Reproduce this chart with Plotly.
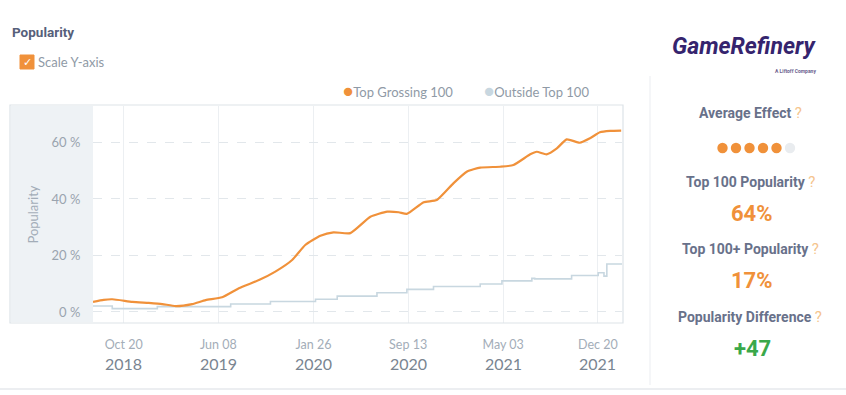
import plotly.graph_objects as go

# ---------------- data ----------------
top_dates = ["2018-08-06", "2018-09-01", "2018-09-22", "2018-11-10", "2018-12-20", "2019-01-22",
             "2019-02-24", "2019-04-05", "2019-05-08", "2019-06-17", "2019-07-28", "2019-09-15",
             "2019-10-25", "2019-12-05", "2020-01-06", "2020-02-12", "2020-03-15", "2020-04-25",
             "2020-06-13", "2020-07-24", "2020-08-21", "2020-09-10", "2020-10-21", "2020-11-22",
             "2021-01-02", "2021-02-04", "2021-03-08", "2021-04-26", "2021-05-28", "2021-07-08",
             "2021-07-24", "2021-08-17", "2021-09-11", "2021-10-05", "2021-11-06", "2021-12-01",
             "2021-12-25", "2022-01-19", "2022-02-15"]
top_values = [3.6, 4.3, 4.5, 3.6, 3.2, 2.8,
              2.1, 2.8, 4.2, 5.2, 8.4, 11.3,
              14.3, 18.4, 23.7, 27.0, 28.2, 27.9,
              33.7, 35.5, 35.3, 34.7, 38.8, 39.6,
              45.6, 49.7, 51.1, 51.4, 52.0, 55.8,
              56.7, 55.8, 57.9, 61.1, 59.9, 61.5,
              63.6, 64.1, 64.2]

out_dates = ["2018-08-06", "2018-09-22", "2019-01-10", "2019-07-08", "2019-10-13", "2020-01-31",
             "2020-03-24", "2020-06-29", "2020-09-10", "2020-11-14", "2021-03-08", "2021-04-30",
             "2021-07-12", "2021-07-19", "2021-10-17", "2021-12-21", "2022-01-04", "2022-01-11",
             "2022-02-17"]
out_values = [2.1, 1.2, 1.9, 2.8, 3.7, 4.5,
              5.6, 6.8, 8.0, 9.0, 9.9, 11.0,
              11.9, 11.7, 12.9, 13.9, 12.7, 17.0,
              17.0]

series_names = ["Top Grossing 100", "Outside Top 100"]
x_tick_dates = ["2018-10-20", "2019-06-08", "2020-01-26", "2020-09-13", "2021-05-03", "2021-12-20"]
x_tick_days = ["Oct 20", "Jun 08", "Jan 26", "Sep 13", "May 03", "Dec 20"]
x_tick_years = ["2018", "2019", "2020", "2020", "2021", "2021"]
y_tick_vals = [0, 20, 40, 60]
y_tick_text = ["0 %", "20 %", "40 %", "60 %"]

effect_score = 5
effect_max = 6
top100_popularity = 64
top100plus_popularity = 17

# ---------------- layout helpers ----------------
W, H = 846, 395
L, R, T, B = 93, 622, 106, 323


def px(x):
    return (x - L) / (R - L)


def py(y):
    return (B - y) / (B - T)


ORANGE = "#f0913a"
BLUE = "#c8d7e0"
GREY_TXT = "#8f9aa6"
DARK_TXT = "#56607a"
QMARK = "#f5c48e"

fig = go.Figure()
fig.add_trace(go.Scatter(x=out_dates, y=out_values, mode="lines", line=dict(color=BLUE, width=1.6, shape="hv"),
                         name=series_names[1], showlegend=False))
fig.add_trace(go.Scatter(x=top_dates, y=top_values, mode="lines",
                         line=dict(color=ORANGE, width=2.2, shape="spline", smoothing=0.5),
                         name=series_names[0], showlegend=False))

P = dict(xref="paper", yref="paper")

shapes = [
    # shaded y-axis band
    dict(type="rect", **P, x0=px(11), x1=0, y0=py(322), y1=py(106),
         fillcolor="#eef2f5", line=dict(width=0), layer="below"),
    # outer frame
    dict(type="rect", **P, x0=px(10), x1=px(623), y0=py(323), y1=py(105),
         fillcolor="rgba(0,0,0,0)", line=dict(color="#dde3e8", width=1.2), layer="above"),
    # right panel divider
    dict(type="line", **P, x0=px(650), x1=px(650), y0=py(385), y1=py(76),
         line=dict(color="#eef0f3", width=1.2)),
    # bottom line
    dict(type="line", **P, x0=px(0), x1=px(846), y0=py(389), y1=py(389),
         line=dict(color="#e6e9ec", width=1.5)),
    # checkbox
    dict(type="rect", **P, x0=px(20), x1=px(34), y0=py(69), y1=py(55),
         fillcolor=ORANGE, line=dict(color=ORANGE, width=1)),
]

# effect dots
for i in range(effect_max):
    cx = 722.5 + i * 13.5
    shapes.append(dict(type="circle", **P,
                       x0=px(cx - 5.2), x1=px(cx + 5.2), y0=py(148 + 5.2), y1=py(148 - 5.2),
                       fillcolor=ORANGE if i < effect_score else "#e9ecef", line=dict(width=0)))

annotations = [
    dict(text="<b>Popularity</b>", **P, x=px(10), y=py(32), xanchor="left", yanchor="middle",
         font=dict(family="Roboto", size=13.5, color=DARK_TXT), showarrow=False),
    dict(text="✓", **P, x=px(27), y=py(62), xanchor="center", yanchor="middle",
         font=dict(family="DejaVu Sans", size=11, color="white"), showarrow=False),
    dict(text="Scale Y-axis", **P, x=px(36), y=py(62), xanchor="left", yanchor="middle",
         font=dict(family="Lato", size=13, color=GREY_TXT), showarrow=False),
    # legend
    dict(text=f"<span style='color:{ORANGE};font-size:17px'>●</span>{series_names[0]}", **P, x=px(341), y=py(90),
         xanchor="left", yanchor="middle", font=dict(family="Lato", size=13, color=GREY_TXT), showarrow=False),
    dict(text=f"<span style='color:{BLUE};font-size:17px'>●</span>{series_names[1]}", **P, x=px(482), y=py(90),
         xanchor="left", yanchor="middle", font=dict(family="Lato", size=13, color=GREY_TXT), showarrow=False),
    # logo
    dict(text="<b><i>GameRefinery</i></b>", **P, x=px(744), y=py(47), xanchor="center", yanchor="middle",
         font=dict(family="Roboto", size=23, color="#35246e"), showarrow=False),
    dict(text="<b>A Liftoff Company</b>", **P, x=px(818), y=py(71), xanchor="right", yanchor="middle",
         font=dict(family="Roboto", size=5, color="#6b5f8e"), showarrow=False),
]

# year line under each date tick
for d, yr in zip(x_tick_dates, x_tick_years):
    annotations.append(dict(text=yr, xref="x", yref="paper", x=d, y=py(363), xanchor="center", yanchor="middle",
                            font=dict(family="Lato", size=16, color="#7a8591"), showarrow=False))

panel = [
    ("Average Effect", 113, None, None),
    ("Top 100 Popularity", 182, f"{top100_popularity}%", ORANGE),
    ("Top 100+ Popularity", 249, f"{top100plus_popularity}%", ORANGE),
    ("Popularity Difference", 317, f"+{top100_popularity - top100plus_popularity}", "#3aa84a"),
]
for label, yy, val, col in panel:
    annotations.append(dict(text=f"<b>{label}</b> <span style='color:{QMARK};font-size:15px'>?</span>", **P,
                            x=px(750), y=py(yy),
                            xanchor="center", yanchor="middle", showarrow=False,
                            font=dict(family="Roboto", size=14, color="#68718a")))
    if val:
        annotations.append(dict(text=f"<b>{val}</b>", **P, x=px(752), y=py(yy + 31), xanchor="center",
                                yanchor="middle", showarrow=False,
                                font=dict(family="Roboto", size=22, color=col)))

fig.update_layout(
    width=W, height=H,
    margin=dict(l=L, r=W - R, t=T, b=H - B, pad=0),
    paper_bgcolor="white", plot_bgcolor="white",
    showlegend=False,
    shapes=shapes,
    annotations=annotations,
    xaxis=dict(type="date", range=["2018-08-06", "2022-02-17"], tickvals=x_tick_dates, ticktext=x_tick_days,
               showgrid=True, gridcolor="#eceff2", gridwidth=1.2, zeroline=False, showline=False,
               ticks="outside", ticklen=10, tickcolor="rgba(0,0,0,0)", automargin=False,
               tickfont=dict(family="Lato", size=12.5, color="#a3adb8")),
    yaxis=dict(range=[-3.9, 72.9], tickvals=y_tick_vals, ticktext=y_tick_text,
               showgrid=True, gridcolor="#e2e7eb", griddash="dash", gridwidth=1, zeroline=False, showline=False,
               ticks="outside", ticklen=9, tickcolor="rgba(0,0,0,0)", automargin=False,
               tickfont=dict(family="Lato", size=13, color="#9aa4af"),
               title=dict(text="Popularity", standoff=10, font=dict(family="Lato", size=13, color="#a3adb8"))),
)

fig.write_html("out.html", config={"displayModeBar": False},
               post_script="document.body.style.margin='0';")
